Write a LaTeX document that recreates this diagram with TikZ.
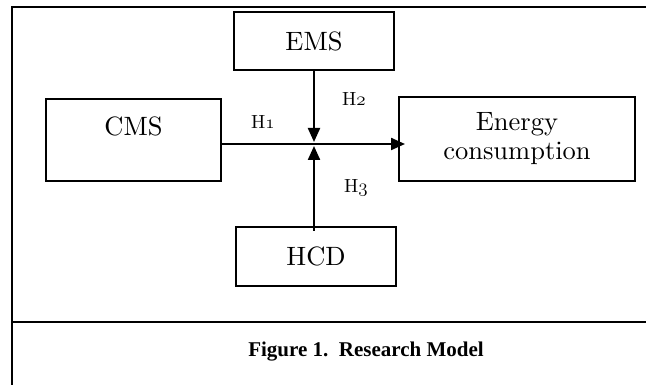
\RequirePackage{fix-cm}
\documentclass[tikz,border=0pt]{standalone}
\usepackage{fontspec}
\newfontfamily\capfont{Liberation Serif}
\newfontfamily\boxrm{lmroman10-regular.otf}
\usetikzlibrary{arrows.meta,calc}
\newcommand{\osn}[1]{{\usefont{OML}{cmm}{m}{it}#1}}
\tikzset{
  boxfont/.style={font=\boxrm\fontsize{26.5}{29}\selectfont},
  box/.style={draw, line width=1.4pt, rectangle, inner sep=0pt, align=center, boxfont},
  hlab/.style={font=\boxrm\fontsize{19}{22}\selectfont, inner sep=0pt},
  conn/.style={line width=2.2pt, -{Triangle[length=14pt,width=12pt]}},
  frame/.style={line width=2pt},
}
\begin{document}
\begin{tikzpicture}[x=1pt,y=1pt]
\useasboundingbox (0,0) rectangle (646,-385);
% frame
\draw[frame] (646,-7) -- (12,-7) -- (12,-385);
\draw[frame] (12,-322) -- (646,-322);
% boxes
\node[box, minimum width=160pt, minimum height=58pt] (ems) at (314,-41) {EMS};
\node[box, minimum width=175pt, minimum height=82pt] (cms) at (133.5,-140) {};
\node[boxfont, inner sep=0pt] (cmstext) at (133.5,-126) {CMS};
\node[box, minimum width=236pt, minimum height=84pt] (ec) at (517,-139) {Energy\\consumption};
\node[box, minimum width=160pt, minimum height=59pt] (hcd) at (316,-256.5) {HCD};
% junction
\coordinate (j) at (314,-144);
\coordinate (jd) at (314,-142);
\coordinate (ju) at (314,-146);
\coordinate (ecin) at (405,-144);
\coordinate (hcdin) at (314,-231);
% connectors
\draw[conn] (cms.east |- j) -- (ecin);
\draw[conn] (ems.south -| j) -- (jd);
\draw[conn] (hcdin) -- (ju);
% labels
\node[hlab] (h1) at (263,-122) {H\osn{1}};
\node[hlab] (h2) at (354,-99) {H\osn{2}};
\node[hlab] (h3) at (356,-188) {H\osn{3}};
% caption
\node[font=\capfont\bfseries\fontsize{21}{24}\selectfont, inner sep=0pt] (cap) at (366,-352) {Figure 1.\ \ Research Model};
\end{tikzpicture}
\end{document}
